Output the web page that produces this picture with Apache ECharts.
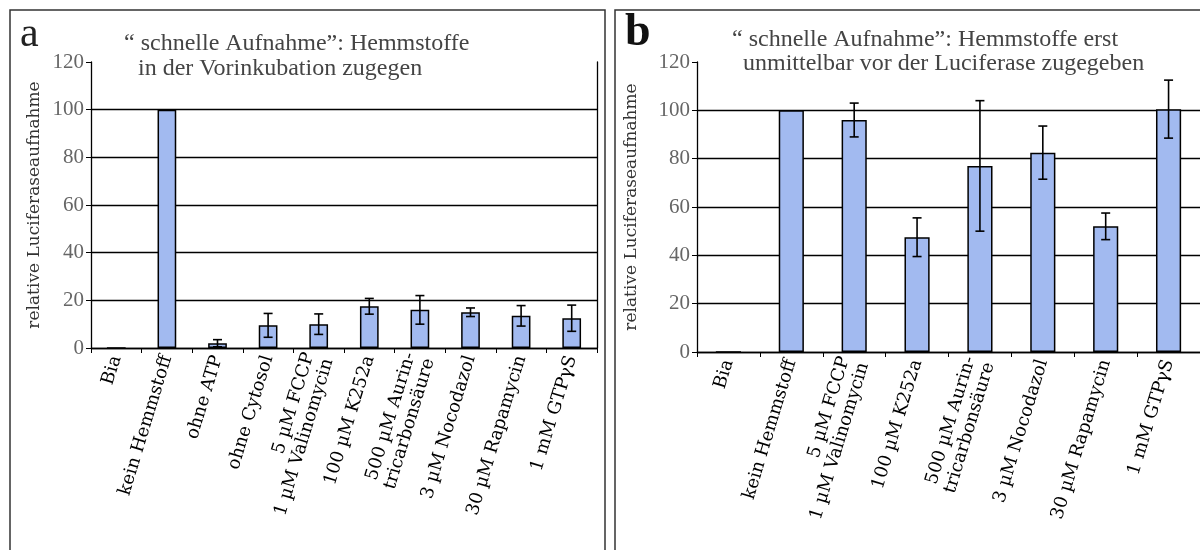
<!DOCTYPE html>
<html>
<head>
<meta charset="utf-8">
<script src="https://cdn.jsdelivr.net/npm/echarts@6/dist/echarts.min.js"></script>
<style>html,body{margin:0;padding:0;background:#fff}#c{width:1200px;height:550px}</style>
</head>
<body>
<div id="c"></div>
<script>
// ---- data ----
const catsA = ['Bia', 'kein Hemmstoff', 'ohne ATP', 'ohne Cytosol', '5 µM FCCP\n1 µM Valinomycin', '100 µM K252a', '500 µM Aurin-\ntricarbonsäure', '3 µM Nocodazol', '30 µM Rapamycin', '1 mM GTPγS'];
const valsA = [0, 100, 2, 9.5, 10, 17.5, 16, 15, 13.5, 12.5];
const errA  = [null, null, 1.5, 5, 4.3, 3.3, 6, 1.8, 4.3, 5.5];

const catsB = ['Bia', 'kein Hemmstoff', '5 µM FCCP\n1 µM Valinomycin', '100 µM K252a', '500 µM Aurin-\ntricarbonsäure', '3 µM Nocodazol', '30 µM Rapamycin', '1 mM GTPγS'];
const valsB = [0, 100, 96, 47.5, 77, 82.5, 52, 100.5];
const errB  = [null, null, 7, 8, 27, 11, 5.5, 12];

const yTicks = [0, 20, 40, 60, 80, 100, 120];
const titleA = ['“ schnelle Aufnahme”: Hemmstoffe', 'in der Vorinkubation zugegen'];
const titleB = ['“ schnelle Aufnahme”: Hemmstoffe erst', 'unmittelbar vor der Luciferase zugegeben'];
const yName = 'relative Luciferaseaufnahme';

// ---- helpers ----
function errData(vals, errs) {
  const out = [];
  errs.forEach((e, i) => { if (e != null) out.push([i, vals[i] - e, vals[i] + e]); });
  return out;
}
function renderErr(params, api) {
  const x = api.value(0), lo = api.value(1), hi = api.value(2);
  const p1 = api.coord([x, hi]), p2 = api.coord([x, lo]);
  const w = 4.5;
  const st = { stroke: '#000', lineWidth: 1.6 };
  return { type: 'group', children: [
    { type: 'line', shape: { x1: p1[0], y1: p1[1], x2: p2[0], y2: p2[1] }, style: st },
    { type: 'line', shape: { x1: p1[0] - w, y1: p1[1], x2: p1[0] + w, y2: p1[1] }, style: st },
    { type: 'line', shape: { x1: p2[0] - w, y1: p2[1], x2: p2[0] + w, y2: p2[1] }, style: st }
  ]};
}
const serif = 'Liberation Serif';
const gridColors = yTicks.map(v => (v === yTicks[yTicks.length - 1] ? 'rgba(0,0,0,0)' : '#000'));

function xAxisCfg(grid, cats) {
  return {
    type: 'category', gridIndex: grid, data: cats,
    axisLine: { lineStyle: { color: '#000', width: 1.3 } },
    axisTick: { show: true, length: 5, lineStyle: { color: '#000' } },
    axisLabel: { interval: 0, rotate: 73, margin: 8, color: '#000', fontFamily: 'DejaVu Serif', fontSize: 18, lineHeight: 20 }
  };
}
function yAxisCfg(grid, gap) {
  return {
    type: 'value', gridIndex: grid, min: 0, max: 120, interval: 20,
    name: yName, nameLocation: 'middle', nameRotate: 90, nameGap: gap,
    nameTextStyle: { fontFamily: 'DejaVu Serif', fontSize: 17, color: '#333' },
    axisLine: { show: true, lineStyle: { color: '#000', width: 1.3 } },
    axisTick: { show: true, inside: false, length: 5, lineStyle: { color: '#000' } },
    axisLabel: { color: '#666', fontFamily: serif, fontSize: 21, margin: 7 },
    splitLine: { show: true, lineStyle: { color: gridColors, width: 1.3 } }
  };
}
const barStyle = { color: '#a2baf0', borderColor: '#000', borderWidth: 1.5 };

const chart = echarts.init(document.getElementById('c'), null, { renderer: 'canvas' });
chart.setOption({
  animation: false,
  backgroundColor: '#fff',
  grid: [
    { left: 91, right: 603, top: 62, bottom: 202 },
    { left: 697, right: -3, top: 62, bottom: 198 }
  ],
  xAxis: [xAxisCfg(0, catsA), xAxisCfg(1, catsB)],
  yAxis: [
    yAxisCfg(0, 48),
    yAxisCfg(1, 57),
    { type: 'value', gridIndex: 0, position: 'right', min: 0, max: 120, interval: 20,
      axisLine: { show: true, lineStyle: { color: '#000', width: 1.3 } },
      axisTick: { show: false }, axisLabel: { show: false }, splitLine: { show: false } }
  ],
  series: [
    { type: 'bar', xAxisIndex: 0, yAxisIndex: 0, data: valsA, barWidth: '37%', itemStyle: barStyle },
    { type: 'custom', xAxisIndex: 0, yAxisIndex: 0, data: errData(valsA, errA), renderItem: renderErr, z: 5 },
    { type: 'bar', xAxisIndex: 1, yAxisIndex: 1, data: valsB, barWidth: '40%', itemStyle: barStyle },
    { type: 'custom', xAxisIndex: 1, yAxisIndex: 1, data: errData(valsB, errB), renderItem: renderErr, z: 5 }
  ],
  graphic: [
    { type: 'rect', shape: { x: 10, y: 10, width: 595, height: 560 }, style: { fill: 'none', stroke: '#333', lineWidth: 1.5 }, silent: true },
    { type: 'rect', shape: { x: 615, y: 10, width: 600, height: 560 }, style: { fill: 'none', stroke: '#333', lineWidth: 1.5 }, silent: true },
    { type: 'text', left: 20, top: 14, style: { text: 'a', font: '42px "Liberation Serif"', fill: '#222' } },
    { type: 'text', left: 625, top: 10, style: { text: 'b', font: 'bold 46px "Liberation Serif"', fill: '#111' } },
    { type: 'text', left: 124, top: 32, style: { text: titleA[0], font: '24px "Liberation Serif"', fill: '#444' } },
    { type: 'text', left: 138, top: 57, style: { text: titleA[1], font: '24px "Liberation Serif"', fill: '#444' } },
    { type: 'text', left: 732, top: 28, style: { text: titleB[0], font: '24px "Liberation Serif"', fill: '#444' } },
    { type: 'text', left: 743, top: 52, style: { text: titleB[1], font: '24px "Liberation Serif"', fill: '#444' } }
  ]
});
</script>
</body>
</html>
